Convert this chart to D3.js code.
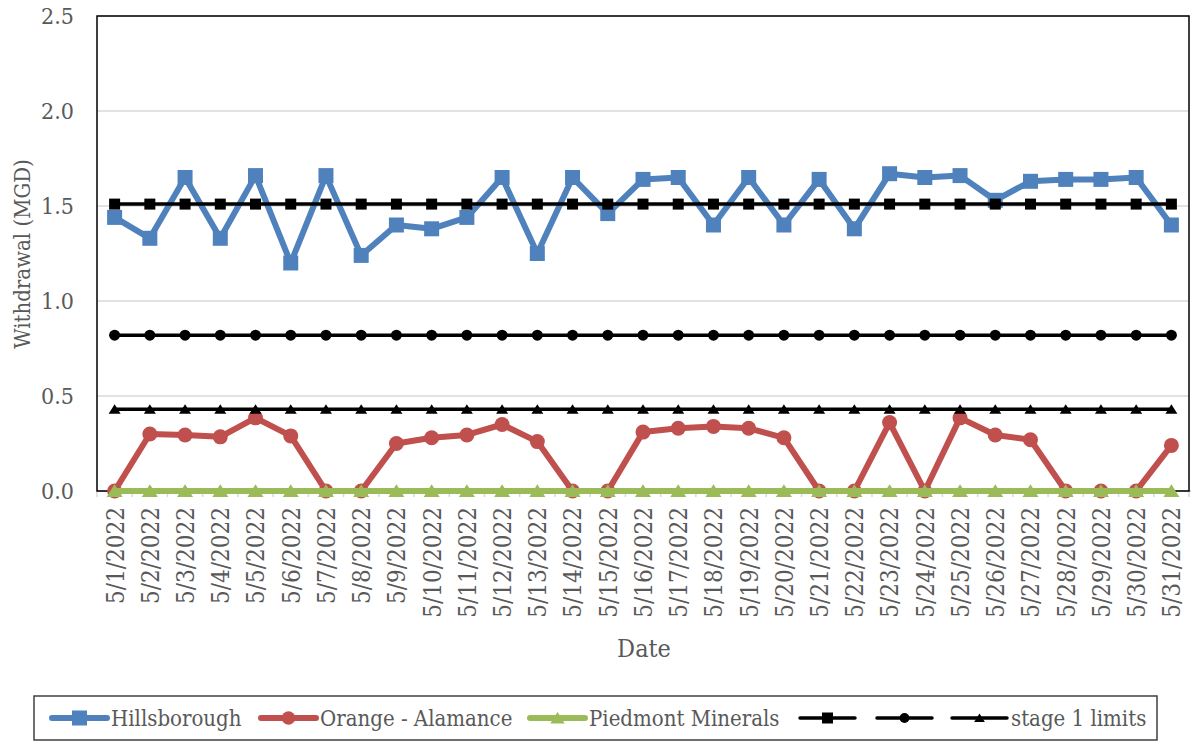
<!DOCTYPE html>
<html>
<head>
<meta charset="utf-8">
<script src="https://cdn.jsdelivr.net/npm/d3@7"></script>
<style>
  body { margin: 0; background: #fff; }
  text { font-family: "DejaVu Serif Condensed", "DejaVu Serif", serif; fill: #595959; }
</style>
</head>
<body>
<div id="chart"></div>
<script>
var svgWidth = 1191;
var svgHeight = 750;

// plot area box
var plot = { left: 97, right: 1189, top: 16, bottom: 491 };

// data
var dates = ["5/1/2022", "5/2/2022", "5/3/2022", "5/4/2022", "5/5/2022", "5/6/2022", "5/7/2022",
  "5/8/2022", "5/9/2022", "5/10/2022", "5/11/2022", "5/12/2022", "5/13/2022", "5/14/2022",
  "5/15/2022", "5/16/2022", "5/17/2022", "5/18/2022", "5/19/2022", "5/20/2022", "5/21/2022",
  "5/22/2022", "5/23/2022", "5/24/2022", "5/25/2022", "5/26/2022", "5/27/2022", "5/28/2022",
  "5/29/2022", "5/30/2022", "5/31/2022"];

var hillsborough = [1.44, 1.33, 1.65, 1.33, 1.66, 1.20, 1.66, 1.24, 1.40, 1.38, 1.44, 1.65, 1.25, 1.65,
  1.46, 1.64, 1.65, 1.40, 1.65, 1.40, 1.64, 1.38, 1.67, 1.65, 1.66, 1.53, 1.63, 1.64, 1.64, 1.65, 1.40];

var orangeAlamance = [0, 0.30, 0.295, 0.285, 0.385, 0.29, 0, 0, 0.25, 0.28, 0.295, 0.35, 0.26, 0,
  0, 0.31, 0.33, 0.34, 0.33, 0.28, 0, 0, 0.36, 0, 0.385, 0.295, 0.27, 0, 0, 0, 0.24];

var piedmont = [0, 0, 0, 0, 0, 0, 0, 0, 0, 0, 0, 0, 0, 0, 0, 0, 0, 0, 0, 0, 0, 0, 0, 0, 0, 0, 0, 0, 0, 0, 0];

var limitSquare = [1.51, 1.51, 1.51, 1.51, 1.51, 1.51, 1.51, 1.51, 1.51, 1.51, 1.51, 1.51, 1.51, 1.51, 1.51,
  1.51, 1.51, 1.51, 1.51, 1.51, 1.51, 1.51, 1.51, 1.51, 1.51, 1.51, 1.51, 1.51, 1.51, 1.51, 1.51];
var limitCircle = [0.82, 0.82, 0.82, 0.82, 0.82, 0.82, 0.82, 0.82, 0.82, 0.82, 0.82, 0.82, 0.82, 0.82, 0.82,
  0.82, 0.82, 0.82, 0.82, 0.82, 0.82, 0.82, 0.82, 0.82, 0.82, 0.82, 0.82, 0.82, 0.82, 0.82, 0.82];
var limitTriangle = [0.43, 0.43, 0.43, 0.43, 0.43, 0.43, 0.43, 0.43, 0.43, 0.43, 0.43, 0.43, 0.43, 0.43, 0.43,
  0.43, 0.43, 0.43, 0.43, 0.43, 0.43, 0.43, 0.43, 0.43, 0.43, 0.43, 0.43, 0.43, 0.43, 0.43, 0.43];

var yTicks = [0, 0.5, 1.0, 1.5, 2.0, 2.5];

var svg = d3.select("#chart")
  .append("svg")
  .attr("width", svgWidth)
  .attr("height", svgHeight);

var xBand = d3.scaleBand().domain(dates).range([plot.left, plot.right]);
var xScale = d3.scalePoint().domain(dates).range([plot.left, plot.right]).padding(0.5);
var yScale = d3.scaleLinear().domain([0, 2.5]).range([plot.bottom, plot.top]);

// gridlines
svg.append("g")
  .selectAll("line")
  .data(yTicks.slice(1))
  .enter()
  .append("line")
  .attr("x1", plot.left)
  .attr("x2", plot.right)
  .attr("y1", d => yScale(d))
  .attr("y2", d => yScale(d))
  .attr("stroke", "#d9d9d9")
  .attr("stroke-width", 1.5);

// y axis labels
var yAxis = svg.append("g")
  .attr("transform", `translate(${plot.left}, 0)`)
  .call(d3.axisLeft(yScale).tickValues(yTicks).tickFormat(d3.format(".1f")).tickSize(0).tickPadding(23));
yAxis.select(".domain").remove();
yAxis.selectAll("text").style("font-size", "23px").attr("fill", "#595959");

// x axis line + between-category ticks
svg.append("line")
  .attr("x1", plot.left).attr("x2", plot.right + 3)
  .attr("y1", plot.bottom).attr("y2", plot.bottom)
  .attr("stroke", "#bfbfbf").attr("stroke-width", 1.5);

svg.append("g")
  .selectAll("line")
  .data(dates.concat(["end"]))
  .enter()
  .append("line")
  .attr("x1", (d, i) => plot.left + i * xBand.bandwidth())
  .attr("x2", (d, i) => plot.left + i * xBand.bandwidth())
  .attr("y1", plot.bottom)
  .attr("y2", plot.bottom + 6)
  .attr("stroke", "#d9d9d9")
  .attr("stroke-width", 1.5);

var xAxis = svg.append("g")
  .attr("transform", `translate(0, ${plot.bottom})`)
  .call(d3.axisBottom(xScale).tickSize(0));
xAxis.select(".domain").remove();
xAxis.selectAll("text")
  .attr("transform", "rotate(-90)")
  .attr("text-anchor", "end")
  .attr("x", -16)
  .attr("y", 0)
  .attr("dy", "0.35em")
  .attr("fill", "#595959")
  .style("font-size", "24px");

// plot area border
svg.append("rect")
  .attr("x", plot.left)
  .attr("y", plot.top)
  .attr("width", plot.right - plot.left)
  .attr("height", plot.bottom - plot.top)
  .attr("fill", "none")
  .attr("stroke", "#000")
  .attr("stroke-width", 1.5);

// axis titles
svg.append("text")
  .attr("transform", "rotate(-90)")
  .attr("x", -254)
  .attr("y", 22)
  .attr("dy", "0.35em")
  .attr("text-anchor", "middle")
  .style("font-size", "22px")
  .text("Withdrawal (MGD)");

svg.append("text")
  .attr("x", 644)
  .attr("y", 657)
  .attr("text-anchor", "middle")
  .style("font-size", "25px")
  .text("Date");

var series = [
  { name: "Hillsborough", values: hillsborough, color: "#4f81bd", width: 6, marker: "square", size: 15 },
  { name: "Orange - Alamance", values: orangeAlamance, color: "#c0504d", width: 6, marker: "circle", size: 15 },
  { name: "Piedmont Minerals", values: piedmont, color: "#9bbb59", width: 6, marker: "triangle", size: 16 },
  { name: "", values: limitSquare, color: "#000", width: 3.5, marker: "square", size: 11 },
  { name: "", values: limitCircle, color: "#000", width: 3.5, marker: "circle", size: 11 },
  { name: "stage 1 limits", values: limitTriangle, color: "#000", width: 3.5, marker: "triangle", size: 12 }
];

function markerPath(type, size) {
  var s = size / 2;
  if (type === "square") return `M${-s},${-s}H${s}V${s}H${-s}Z`;
  if (type === "circle") return d3.symbol(d3.symbolCircle, Math.PI * s * s)();
  return `M0,${-s * 0.85}L${s},${s * 0.75}L${-s},${s * 0.75}Z`;
}

var line = d3.line()
  .x((d, i) => xScale(dates[i]))
  .y(d => yScale(d));

series.forEach(function(s) {
  var g = svg.append("g");
  g.append("path")
    .attr("d", line(s.values))
    .attr("fill", "none")
    .attr("stroke", s.color)
    .attr("stroke-width", s.width)
    .attr("stroke-linejoin", "round")
    .attr("stroke-linecap", "round");
  g.selectAll(".mk")
    .data(s.values)
    .enter()
    .append("path")
    .attr("class", "mk")
    .attr("transform", (d, i) => `translate(${xScale(dates[i])}, ${yScale(d)})`)
    .attr("d", markerPath(s.marker, s.size))
    .attr("fill", s.color);
});

// legend
svg.append("rect")
  .attr("x", 34).attr("y", 696)
  .attr("width", 1123).attr("height", 44)
  .attr("fill", "#fff")
  .attr("stroke", "#404040")
  .attr("stroke-width", 1.5);

var legendX = [52, 261, 530, 800, 877, 952];
series.forEach(function(s, i) {
  var x0 = legendX[i];
  var cy = 718;
  var g = svg.append("g");
  g.append("line")
    .attr("x1", x0).attr("x2", x0 + 55)
    .attr("y1", cy).attr("y2", cy)
    .attr("stroke", s.color)
    .attr("stroke-width", s.width)
    .attr("stroke-linecap", "round");
  g.append("path")
    .attr("transform", `translate(${x0 + 27.5}, ${cy})`)
    .attr("d", markerPath(s.marker, s.marker === "square" ? s.size : s.size * 0.9))
    .attr("fill", s.color);
  if (s.name) {
    g.append("text")
      .attr("x", x0 + 59)
      .attr("y", cy)
      .attr("dy", "0.35em")
      .style("font-size", "22px")
      .text(s.name);
  }
});
</script>
</body>
</html>
